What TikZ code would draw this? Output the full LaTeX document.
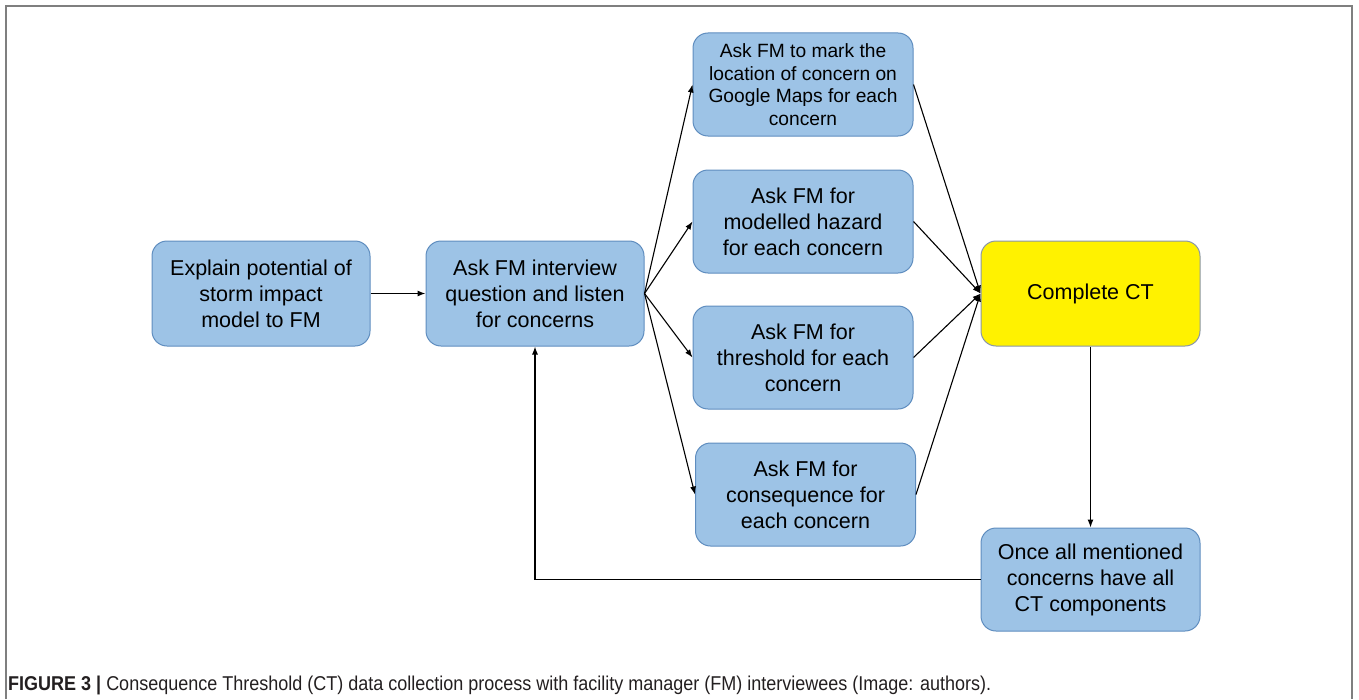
\documentclass[tikz,border=0pt]{standalone}
\usepackage{fontspec}
\setmainfont{Liberation Sans}
\newfontfamily\capfont[FakeStretch=0.9]{Liberation Sans}
\usetikzlibrary{arrows.meta}
\definecolor{boxblue}{HTML}{9DC3E6}
\definecolor{boxedge}{HTML}{5F8DBF}
\definecolor{hledge}{HTML}{8A96A8}
\definecolor{framegray}{HTML}{7F7F7F}
\definecolor{captxt}{HTML}{231F20}
\begin{document}
\begin{tikzpicture}[x=1bp,y=-1bp,
  proc/.style={draw=boxedge, line width=1bp, fill=boxblue, rounded corners=15bp,
    minimum width=218bp, minimum height=105bp, align=center,
    font=\fontsize{21.5bp}{26bp}\selectfont, inner sep=0pt},
  small/.style={font=\fontsize{19.2bp}{22.5bp}\selectfont},
  hl/.style={proc, fill=yellow, draw=hledge},
  conn/.style={draw=black, line width=1.1bp, -{Latex[length=8bp,width=6bp]}}]
\useasboundingbox (0,0) rectangle (1359,699);
\draw[framegray, line width=2bp] (6,699) -- (6,6) -- (1352,6) -- (1352,699);

\node[proc] (a) at (261,293.5) {Explain potential of\\storm impact\\model to FM};
\node[proc] (b) at (535,293.5) {Ask FM interview\\question and listen\\for concerns};
\node[proc, small, minimum width=220bp, minimum height=103bp] (c1) at (803,84.5) {Ask FM to mark the\\location of concern on\\Google Maps for each\\concern};
\node[proc, minimum width=220bp, minimum height=103bp] (c2) at (803,221.5) {Ask FM for\\modelled hazard\\for each concern};
\node[proc, minimum width=220bp, minimum height=103bp] (c3) at (803,357.5) {Ask FM for\\threshold for each\\concern};
\node[proc, minimum width=220bp, minimum height=103bp] (c4) at (805.5,494.5) {Ask FM for\\consequence for\\each concern};
\node[hl, minimum width=219bp] (d) at (1090.5,293.5) {Complete CT};
\node[proc, minimum width=219bp, minimum height=103bp] (e) at (1090.5,579.5) {Once all mentioned\\concerns have all\\CT components};

\draw[conn] (a.east) -- (b.west);
\foreach \c in {c1,c2,c3,c4}{
  \draw[conn] (b.east) -- (\c.west);
  \draw[conn] (\c.east) -- (d.west);
}
\draw[conn] (d.south) -- (e.north);
\draw[conn] (e.west) -| (b.south);

\node[anchor=base west, inner sep=0pt, text=captxt, font=\capfont\fontsize{20bp}{23bp}\selectfont] (cap) at (8,690)
  {\textbf{FIGURE 3 |} Consequence Threshold (CT) data collection process with facility manager (FM) interviewees (Image: authors).};
\end{tikzpicture}
\end{document}
